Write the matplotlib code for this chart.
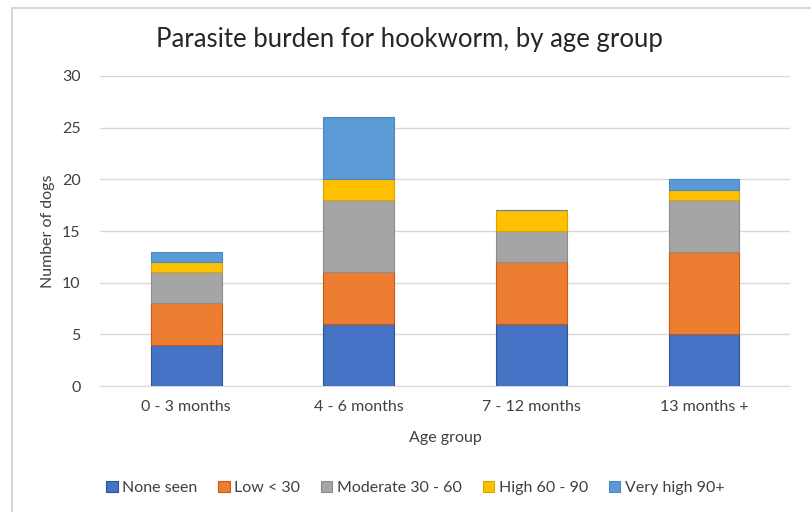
import matplotlib.pyplot as plt
import numpy as np
from matplotlib.patches import Rectangle

# data
age_groups = ["0 - 3 months", "4 - 6 months", "7 - 12 months", "13 months +"]
none_seen = [4, 6, 6, 5]
low = [4, 5, 6, 8]
moderate = [3, 7, 3, 5]
high = [1, 2, 2, 1]
very_high = [1, 6, 0, 1]

series_names = ["None seen", "Low < 30", "Moderate 30 - 60", "High 60 - 90", "Very high 90+"]
series_values = [none_seen, low, moderate, high, very_high]
colors = ["#4472C4", "#ED7D31", "#A5A5A5", "#FFC000", "#5B9BD5"]
edges = ["#2F5597", "#C55A11", "#8C8C8C", "#D9A300", "#4A87C0"]

plt.rcParams['font.family'] = ['Lato', 'DejaVu Sans']

fig = plt.figure(figsize=(8.11, 5.12), dpi=100)
ax = fig.add_axes([0.1233, 0.246, 0.851, 0.6056])

# light outer border of the chart area
fig.patches.append(Rectangle((12 / 811, -0.05), 1.2, (512 - 8) / 512 + 0.05, transform=fig.transFigure,
                             fill=False, edgecolor="#D0D0D0", linewidth=1.2))

x = np.arange(len(age_groups))
bottom = np.zeros(len(age_groups))
handles = []
for name, vals, c, ec in zip(series_names, series_values, colors, edges):
    vals = np.array(vals)
    b = ax.bar(x, vals, width=0.41, bottom=bottom, color=c, edgecolor=ec, linewidth=0.8,
               label=name, zorder=3)
    handles.append(b)
    bottom += vals

ax.set_xlim(-0.5, len(age_groups) - 0.5)
ax.set_ylim(0, 30)
ax.set_yticks(range(0, 31, 5))
ax.set_xticks(x)
ax.set_xticklabels(age_groups)
ax.grid(axis="y", color="#D9D9D9", linewidth=1.0, zorder=0)
ax.set_axisbelow(True)
for s in ["top", "right", "left"]:
    ax.spines[s].set_visible(False)
ax.spines["bottom"].set_color("#D9D9D9")
ax.tick_params(length=0, colors="#404040", labelsize=11.5)
ax.tick_params(axis="y", pad=14)
ax.tick_params(axis="x", pad=10)

ax.set_ylabel("Number of dogs", fontsize=11.5, color="#404040", labelpad=5)
ax.set_xlabel("Age group", fontsize=11.5, color="#404040", labelpad=12)
fig.text(0.505, 0.922, "Parasite burden for hookworm, by age group", ha="center", va="center",
         fontsize=18.5, color="#262626")

fig.legend(handles=handles, loc="center", bbox_to_anchor=(0.512, 0.047), ncol=5, frameon=False,
           fontsize=11.5, handlelength=0.7, handleheight=0.7, handletextpad=0.3, columnspacing=1.3,
           labelcolor="#404040")

fig.savefig("out.png", dpi=100, facecolor="white")
